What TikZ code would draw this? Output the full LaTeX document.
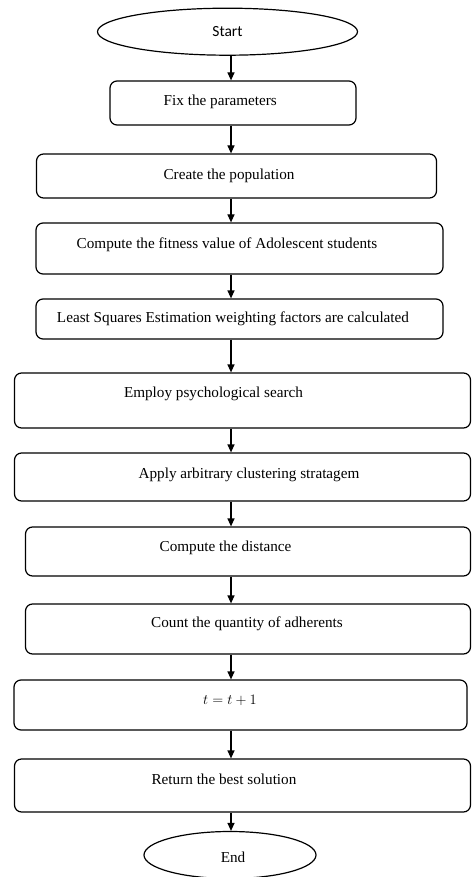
\documentclass[tikz,border=0pt]{standalone}
\usepackage{fontspec}
\setmainfont{Liberation Serif}
\newfontfamily\startfont{Carlito}
\usetikzlibrary{shapes.geometric, arrows.meta}
\tikzset{
  stepbox/.style={draw, line width=1.2pt, rounded corners=7pt, inner sep=0pt},
  termnode/.style={draw, ellipse, line width=1.2pt, inner sep=0pt},
  flow/.style={line width=1.2pt, -{Triangle[length=8pt, width=7pt]}},
  boxtext/.style={anchor=base, inner sep=0pt, font=\fontsize{15.2}{17}\selectfont},
}

\begin{document}
\begin{tikzpicture}[x=1pt, y=1pt]
  \useasboundingbox (0,0) rectangle (472,-877);
  \coordinate (axis) at (231,0);
  % Terminals
  \node[termnode, minimum width=260pt, minimum height=47pt,
    font=\startfont\fontsize{15.5}{17}\selectfont] (start) at (227.5,-31.7) {Start};
  \node[termnode, minimum width=172pt, minimum height=47pt,
    label={[boxtext, xshift=3pt, yshift=-2.3pt]center:End}] (end) at (230,-855) {};
  % Steps
  \node[stepbox, minimum width=246pt, minimum height=44pt,
    label={[boxtext, xshift=-12.7pt, yshift=1pt]center:Fix the parameters}] (fix) at (233,-103) {};
  \node[stepbox, minimum width=400pt, minimum height=44pt,
    label={[boxtext, xshift=-7.5pt, yshift=0.3pt]center:Create the population}] (pop) at (236.5,-176) {};
  \node[stepbox, minimum width=407pt, minimum height=51pt,
    label={[boxtext, xshift=-12.5pt, yshift=4.2pt]center:Compute the fitness value of Adolescent students}] (fit) at (239.5,-248.5) {};
  \node[stepbox, minimum width=407pt, minimum height=40pt,
    label={[boxtext, xshift=-6.5pt, yshift=0pt]center:Least Squares Estimation weighting factors are calculated}] (lse) at (239.5,-319) {};
  \node[stepbox, minimum width=456pt, minimum height=55pt,
    label={[boxtext, xshift=-29pt, yshift=6.5pt]center:Employ psychological search}] (psy) at (242.5,-400.5) {};
  \node[stepbox, minimum width=456pt, minimum height=48pt,
    label={[boxtext, xshift=6.5pt, yshift=2pt]center:Apply arbitrary clustering stratagem}] (clu) at (242.5,-477) {};
  \node[stepbox, minimum width=445pt, minimum height=49pt,
    label={[boxtext, xshift=-22.5pt, yshift=3.8pt]center:Compute the distance}] (dis) at (248,-551.5) {};
  \node[stepbox, minimum width=445pt, minimum height=50pt,
    label={[boxtext, xshift=-1pt, yshift=5pt]center:Count the quantity of adherents}] (adh) at (248,-629) {};
  \node[stepbox, minimum width=453pt, minimum height=50pt,
    label={[boxtext, xshift=-10.5pt, yshift=4.3pt]center:$t = t + 1$}] (inc) at (240.5,-705) {};
  \node[stepbox, minimum width=456pt, minimum height=53pt,
    label={[boxtext, xshift=-18.5pt, yshift=6pt]center:Return the best solution}] (ret) at (242.5,-785.5) {};
  % Arrows
  \draw[flow] (axis |- start.south) -- (axis |- fix.north);
  \draw[flow] (axis |- fix.south) -- (axis |- pop.north);
  \draw[flow] (axis |- pop.south) -- (axis |- fit.north);
  \draw[flow] (axis |- fit.south) -- (axis |- lse.north);
  \draw[flow] (axis |- lse.south) -- (axis |- psy.north);
  \draw[flow] (axis |- psy.south) -- (axis |- clu.north);
  \draw[flow] (axis |- clu.south) -- (axis |- dis.north);
  \draw[flow] (axis |- dis.south) -- (axis |- adh.north);
  \draw[flow] (axis |- adh.south) -- (axis |- inc.north);
  \draw[flow] (axis |- inc.south) -- (axis |- ret.north);
  \draw[flow] (axis |- ret.south) -- (axis |- end.north);
\end{tikzpicture}
\end{document}
